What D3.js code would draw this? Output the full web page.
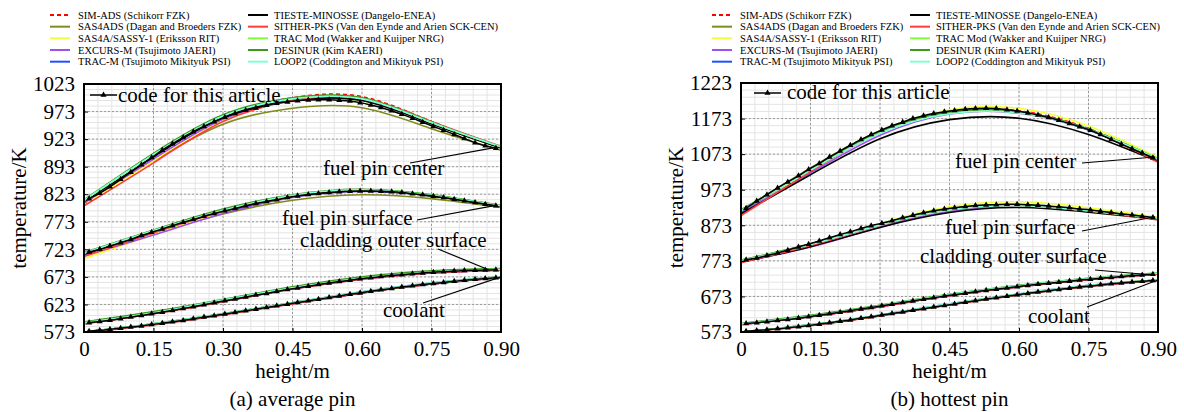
<!DOCTYPE html>
<html>
<head>
<meta charset="utf-8">
<script src="https://cdn.jsdelivr.net/npm/d3@7"></script>
<style>
  body { margin: 0; background: #fff; }
  svg { display: block; font-family: "Liberation Serif", "Times New Roman", serif; }
</style>
</head>
<body>
<svg id="chart" width="1184" height="412"></svg>
<script>
// ---- data ----
const hCode = [0.011,0.034,0.056,0.079,0.101,0.124,0.146,0.169,0.191,0.214,0.236,0.259,0.281,0.304,0.326,0.349,0.371,0.394,0.416,0.439,
               0.461,0.484,0.506,0.529,0.551,0.574,0.596,0.619,0.641,0.664,0.686,0.709,0.731,0.754,0.776,0.799,0.821,0.844,0.866,0.889];
const hBench = [0, 0.15, 0.30, 0.45, 0.60, 0.75, 0.90];

const benchNames = ["SIM-ADS (Schikorr FZK)", "SAS4ADS (Dagan and Broeders FZK)", "SAS4A/SASSY-1 (Eriksson RIT)",
  "EXCURS-M (Tsujimoto JAERI)", "TRAC-M (Tsujimoto Mikityuk PSI)", "TIESTE-MINOSSE (Dangelo-ENEA)",
  "SITHER-PKS (Van den Eynde and Arien SCK-CEN)", "TRAC Mod (Wakker and Kuijper NRG)", "DESINUR (Kim KAERI)",
  "LOOP2 (Coddington and Mikityuk PSI)"];
const benchColors = ["#ff0000", "#7f8c1c", "#f0ff3a", "#a050f0", "#1f4fff", "#000000", "#ff3b3b", "#7fff3a", "#3a9a1a", "#7fffd4"];
const codeName = "code for this article";
const curveLabels = ["fuel pin center", "fuel pin surface", "cladding outer surface", "coolant"];

const xTicks = [0, 0.15, 0.30, 0.45, 0.60, 0.75, 0.90];
const xTickLabels = ["0", "0.15", "0.30", "0.45", "0.60", "0.75", "0.90"];
const avgYTicks = [573, 623, 673, 723, 773, 823, 873, 923, 973, 1023];
const avgYTickLabels = ["573", "623", "673", "723", "773", "823", "893", "923", "973", "1023"];
const hotYTicks = [573, 673, 773, 873, 973, 1073, 1173, 1273];
const hotYTickLabels = ["573", "673", "773", "873", "973", "1073", "1173", "1223"];

// (a) average pin – code for this article
const avgCenterCode = [815,825,836.5,850,863,876.5,889.5,903,914.5,926,936.5,946,954.5,962.5,969.5,975.5,979.5,984.5,988,990.5,
                       992.7,994,994.5,994.5,993.6,992,989.2,985,980.5,974.5,968,961,953.5,946,939,931.5,924,916.5,911,906.5];
const avgSurfaceCode = [718,723,729,735,741,748,754,760,766,772,777,783,788,793,797,802,806,810,813,817,
                        820,822.5,824.5,826,827.5,828.5,829,829,828.5,827.5,826,824,822,819.5,817,814,811,808,805,802];
const avgCladCode = [590,592,594.5,597,600,603,606,609,612,615.5,619,622.5,626,629.5,633,636.5,640,643,646.5,650,
                     653,656,659,662,664.5,667,669.5,671.5,673.5,675.5,677,678.5,680,681.5,682.5,683.5,684.5,685,685.5,686];
const avgCoolCode = [574.5,576,578,580,582,584,586.5,589,591.5,594,597,600,602.5,605.5,608.5,611.5,614.5,617.5,620.5,623.5,
                     626.5,629.5,632.5,635.5,638.5,641.5,644,647,649.5,652,654.5,657,659,661,663,665,667,668.5,670,671.5];

// (a) average pin – benchmark codes, one row per legend entry
const avgCenterBench = [
  [806, 890, 963, 998, 1000, 955, 909],
  [810, 884, 950, 979, 980, 942, 903],
  [803, 884, 958, 992, 992, 951, 907],
  [807, 887, 959, 993, 993, 951, 908],
  [811, 893, 963, 994, 994, 952, 908],
  [810, 891, 962, 993, 993, 951, 907],
  [802, 880, 955, 993, 997, 955, 910],
  [812, 895, 966, 997, 997, 953, 909],
  [813, 897, 967, 998, 998, 954, 909],
  [812, 895, 965, 996, 996, 953, 909]
];
const avgSurfaceBench = [
  [712, 755, 793, 820, 830, 821, 802],
  [714, 752, 787, 812, 822, 815, 799],
  [706, 750, 790, 818, 829, 820, 801],
  [711, 749, 788, 817, 828, 820, 801],
  [715, 756, 793, 819, 829, 820, 801],
  [714, 755, 792, 819, 829, 820, 801],
  [710, 753, 792, 820, 830, 821, 803],
  [716, 757, 795, 821, 831, 822, 802],
  [717, 758, 796, 822, 832, 822, 802],
  [716, 757, 794, 821, 831, 821, 802]
];
const avgCladBench = [
  [588, 606, 628, 651, 669, 680, 685],
  [589, 607, 629, 652, 670, 681, 686],
  [589, 607, 630, 652, 670, 681, 686],
  [589, 607, 629, 651, 669, 680, 685],
  [590, 608, 630, 653, 671, 682, 687],
  [589, 607, 629, 652, 670, 681, 686],
  [588, 606, 628, 651, 669, 680, 685],
  [591, 609, 632, 654, 672, 683, 688],
  [591, 610, 632, 655, 673, 684, 688],
  [590, 608, 631, 653, 671, 682, 687]
];
const avgCoolBench = [
  [573, 587, 605, 625, 644, 660, 672],
  [573, 587, 605, 625, 645, 661, 673],
  [573, 587, 606, 626, 645, 661, 673],
  [573, 587, 605, 625, 644, 660, 672],
  [573, 588, 606, 626, 646, 662, 673],
  [573, 587, 605, 625, 644, 660, 672],
  [572, 586, 604, 624, 644, 660, 672],
  [573, 588, 606, 626, 645, 661, 673],
  [573, 588, 606, 626, 645, 661, 673],
  [573, 588, 606, 626, 646, 662, 673]
];

// (b) hottest pin – code for this article
const hotCenterCode = [921,941,959,978,995,1012,1030,1047,1065,1082,1098,1114,1128,1141,1153,1163,1173,1181,1187,1192,
                       1196,1199,1201,1202,1201,1198,1194,1189,1183,1176,1168,1159,1150,1140,1128,1114,1101,1088,1076,1063];
const hotSurfaceCode = [776,781,788,795,803,812,820,829,838,847,855,864,872,879,886,894,901,908,914,918.5,
                        922.5,926,928.5,930,931,932,932,931,929.5,927.5,925,922,919,916,912.5,909,905,902,898.5,895];
const hotCladCode = [597,599,602,605,608,612,616,620,624,628.5,633,637.5,642,646.5,651,656,660.5,665,669.5,674,
                     678,682,686,690,693.5,697,700.5,704,707,710,713,716,719,721.5,724,726.5,729,731.5,733.5,735.5];
const hotCoolCode = [575,577,579.5,582,585,588,591.5,595,599,603,607,611.5,616,620.5,625,629.5,634,638.5,643,647.5,
                     652,656.5,661,665.5,669.5,673.5,677.5,681.5,685.5,689,692.5,696,699.5,702.5,705.5,708.5,711,713.5,715.5,717.5];

// (b) hottest pin – benchmark codes
const hotCenterBench = [
  [912, 1030, 1137, 1193, 1195, 1145, 1058],
  [915, 1034, 1139, 1193, 1192, 1142, 1057],
  [905, 1028, 1138, 1198, 1202, 1152, 1064],
  [908, 1020, 1126, 1186, 1188, 1141, 1056],
  [912, 1030, 1136, 1190, 1190, 1141, 1058],
  [905, 1015, 1116, 1170, 1174, 1128, 1052],
  [900, 1024, 1133, 1190, 1193, 1143, 1050],
  [916, 1030, 1133, 1188, 1190, 1143, 1060],
  [916, 1032, 1136, 1191, 1192, 1144, 1060],
  [914, 1028, 1132, 1187, 1189, 1142, 1059]
];
const hotSurfaceBench = [
  [773, 820, 876, 918, 930, 915, 892],
  [774, 820, 877, 919, 930, 915, 892],
  [770, 818, 878, 925, 939, 922, 896],
  [770, 812, 868, 912, 926, 913, 891],
  [773, 819, 875, 917, 929, 914, 892],
  [770, 813, 867, 909, 923, 910, 890],
  [768, 816, 873, 916, 928, 913, 888],
  [775, 820, 875, 917, 929, 914, 893],
  [775, 821, 876, 918, 930, 915, 893],
  [774, 819, 874, 916, 928, 914, 893]
];
const hotCladBench = [
  [594, 616, 644, 675, 700, 720, 736],
  [595, 617, 645, 676, 701, 721, 737],
  [595, 617, 645, 676, 701, 721, 737],
  [594, 616, 644, 675, 700, 720, 736],
  [596, 618, 646, 677, 702, 722, 737],
  [595, 617, 645, 676, 701, 721, 736],
  [594, 616, 644, 675, 700, 720, 736],
  [597, 619, 648, 679, 704, 724, 739],
  [597, 620, 648, 679, 704, 724, 739],
  [596, 618, 647, 678, 703, 723, 738]
];
const hotCoolBench = [
  [573, 592, 619, 650, 678, 702, 718],
  [573, 592, 620, 651, 679, 703, 719],
  [573, 592, 620, 651, 679, 703, 719],
  [573, 592, 619, 650, 678, 702, 718],
  [573, 593, 621, 652, 680, 704, 719],
  [573, 592, 619, 650, 678, 702, 718],
  [572, 591, 618, 649, 677, 701, 717],
  [573, 593, 620, 651, 679, 703, 719],
  [573, 593, 620, 651, 679, 703, 719],
  [573, 593, 621, 652, 680, 704, 719]
];

// ---- layout ----
const panels = [
  {
    id: "a", left: 84, right: 501, top: 84, bottom: 332, yMin: 573, yMax: 1023, minorStep: 10,
    yTicks: avgYTicks, yLabels: avgYTickLabels, caption: "(a) average pin", titleX: 26,
    curves: [
      { code: avgCenterCode, bench: avgCenterBench },
      { code: avgSurfaceCode, bench: avgSurfaceBench },
      { code: avgCladCode, bench: avgCladBench },
      { code: avgCoolCode, bench: avgCoolBench }
    ],
    // label text position (px from plot top-left), leader start (px), leader end (data)
    notes: [
      { tx: 239, ty: 91, lx: 326, ly: 79, h: 0.883, t: 907 },
      { tx: 198, ty: 141, lx: 333, ly: 136, h: 0.883, t: 802 },
      { tx: 216, ty: 163, lx: 354, ly: 165, h: 0.873, t: 686 },
      { tx: 299, ty: 233, lx: 339, ly: 219, h: 0.900, t: 673 }
    ],
    codeLegend: { x1: 6, x2: 33, y: 11, tx: 34, ty: 18 },
    legend: { col1: 50, col2: 248 }
  },
  {
    id: "b", left: 741, right: 1158, top: 83, bottom: 332, yMin: 573, yMax: 1273, minorStep: 20,
    yTicks: hotYTicks, yLabels: hotYTickLabels, caption: "(b) hottest pin", titleX: 683,
    curves: [
      { code: hotCenterCode, bench: hotCenterBench },
      { code: hotSurfaceCode, bench: hotSurfaceBench },
      { code: hotCladCode, bench: hotCladBench },
      { code: hotCoolCode, bench: hotCoolBench }
    ],
    notes: [
      { tx: 214, ty: 85, lx: 341, ly: 80, h: 0.894, t: 1065 },
      { tx: 204, ty: 151, lx: 341, ly: 148, h: 0.894, t: 897 },
      { tx: 179, ty: 180, lx: 354, ly: 187, h: 0.883, t: 734 },
      { tx: 287, ty: 240, lx: 346, ly: 224, h: 0.901, t: 720 }
    ],
    codeLegend: { x1: 13, x2: 40, y: 10, tx: 46, ty: 16 },
    legend: { col1: 712, col2: 910 }
  }
];

const svg = d3.select("#chart");
const FS = 21;
const SERIF = "'Liberation Serif', 'Times New Roman', serif";

function drawPanel(p) {
  const x = d3.scaleLinear().domain([0, 0.9]).range([p.left, p.right]);
  const y = d3.scaleLinear().domain([p.yMin, p.yMax]).range([p.bottom, p.top]);
  const g = svg.append("g").attr("font-family", SERIF);

  g.append("clipPath").attr("id", "clip-" + p.id)
    .append("rect").attr("x", p.left).attr("y", p.top)
    .attr("width", p.right - p.left).attr("height", p.bottom - p.top);

  // minor grid
  const xMinor = d3.range(1, 30).map(i => i * 0.03);
  const yMinor = d3.range(1, (p.yMax - p.yMin) / p.minorStep).map(i => p.yMin + i * p.minorStep);
  g.append("g").selectAll("line").data(xMinor).join("line")
    .attr("x1", d => x(d)).attr("x2", d => x(d)).attr("y1", p.top).attr("y2", p.bottom)
    .attr("stroke", "#e4e4e4").attr("stroke-width", 1);
  g.append("g").selectAll("line").data(yMinor).join("line")
    .attr("x1", p.left).attr("x2", p.right).attr("y1", d => y(d)).attr("y2", d => y(d))
    .attr("stroke", "#e4e4e4").attr("stroke-width", 1);

  // major grid (dotted)
  g.append("g").selectAll("line").data(xTicks.slice(1, -1)).join("line")
    .attr("x1", d => x(d)).attr("x2", d => x(d)).attr("y1", p.top).attr("y2", p.bottom)
    .attr("stroke", "#9a9a9a").attr("stroke-width", 1).attr("stroke-dasharray", "2,2");
  g.append("g").selectAll("line").data(p.yTicks.slice(1, -1)).join("line")
    .attr("x1", p.left).attr("x2", p.right).attr("y1", d => y(d)).attr("y2", d => y(d))
    .attr("stroke", "#9a9a9a").attr("stroke-width", 1).attr("stroke-dasharray", "2,2");

  const plot = g.append("g").attr("clip-path", `url(#clip-${p.id})`);
  const benchLine = d3.line().x((d, j) => x(hBench[j])).y(d => y(d)).curve(d3.curveNatural);
  const codeLine = d3.line().x((d, j) => x(hCode[j])).y(d => y(d)).curve(d3.curveCatmullRom);

  p.curves.forEach(c => {
    c.bench.forEach((vals, i) => {
      plot.append("path").datum(vals)
        .attr("d", benchLine)
        .attr("fill", "none")
        .attr("stroke", benchColors[i])
        .attr("stroke-width", 1.6)
        .attr("stroke-dasharray", i === 0 ? "4,3" : null);
    });
  });
  p.curves.forEach(c => {
    plot.append("path").datum(c.code)
      .attr("d", codeLine)
      .attr("fill", "none").attr("stroke", "#000").attr("stroke-width", 1.5);
    plot.append("g").selectAll("path").data(c.code).join("path")
      .attr("transform", (d, j) => `translate(${x(hCode[j])},${y(d)})`)
      .attr("d", d3.symbol(d3.symbolTriangle, 16))
      .attr("fill", "#000");
  });

  // frame
  g.append("rect").attr("x", p.left).attr("y", p.top)
    .attr("width", p.right - p.left).attr("height", p.bottom - p.top)
    .attr("fill", "none").attr("stroke", "#000").attr("stroke-width", 2);

  // axes
  const xAxis = g.append("g").attr("transform", `translate(0,${p.bottom})`)
    .call(d3.axisBottom(x).tickValues(xTicks).tickFormat((d, i) => xTickLabels[i])
      .tickSizeInner(-4).tickSizeOuter(0).tickPadding(9));
  const yAxis = g.append("g").attr("transform", `translate(${p.left},0)`)
    .call(d3.axisLeft(y).tickValues(p.yTicks).tickFormat((d, i) => p.yLabels[i])
      .tickSizeInner(-4).tickSizeOuter(0).tickPadding(9));
  [xAxis, yAxis].forEach(a => {
    a.attr("font-family", SERIF).attr("font-size", FS);
    a.select(".domain").remove();
    a.selectAll("text").attr("fill", "#000");
    a.selectAll("line").attr("stroke", "#000");
  });

  // axis titles and caption
  const cx = (p.left + p.right) / 2;
  g.append("text").attr("x", cx).attr("y", 378).attr("text-anchor", "middle")
    .attr("font-size", FS).text("height/m");
  g.append("text").attr("x", cx).attr("y", 406).attr("text-anchor", "middle")
    .attr("font-size", FS).text(p.caption);
  g.append("text").attr("transform", `translate(${p.titleX},${(p.top + p.bottom) / 2}) rotate(-90)`)
    .attr("text-anchor", "middle").attr("font-size", FS).text("temperature/K");

  // curve labels with leader lines
  p.notes.forEach((n, i) => {
    g.append("text").attr("x", p.left + n.tx).attr("y", p.top + n.ty)
      .attr("font-size", FS).text(curveLabels[i]);
    g.append("line")
      .attr("x1", p.left + n.lx).attr("y1", p.top + n.ly)
      .attr("x2", x(n.h)).attr("y2", y(n.t))
      .attr("stroke", "#000").attr("stroke-width", 1.2);
  });

  // in-plot legend for code
  const cl = p.codeLegend;
  g.append("line").attr("x1", p.left + cl.x1).attr("x2", p.left + cl.x2)
    .attr("y1", p.top + cl.y).attr("y2", p.top + cl.y)
    .attr("stroke", "#000").attr("stroke-width", 1.5);
  g.append("path").attr("transform", `translate(${p.left + (cl.x1 + cl.x2) / 2},${p.top + cl.y})`)
    .attr("d", d3.symbol(d3.symbolTriangle, 16)).attr("fill", "#000");
  g.append("text").attr("x", p.left + cl.tx).attr("y", p.top + cl.ty)
    .attr("font-size", FS).text(codeName);

  // benchmark legend above the plot
  const lg = g.append("g");
  benchNames.forEach((name, i) => {
    const col = i < 5 ? p.legend.col1 : p.legend.col2;
    const ly = 15 + (i % 5) * 11.67;
    lg.append("line").attr("x1", col).attr("x2", col + 20).attr("y1", ly).attr("y2", ly)
      .attr("stroke", benchColors[i]).attr("stroke-width", 2)
      .attr("stroke-dasharray", i === 0 ? "4,3" : null);
    lg.append("text").attr("x", col + (i < 5 ? 28 : 26)).attr("y", ly + 3.6)
      .attr("font-size", 10.5).text(name);
  });
}

panels.forEach(drawPanel);
</script>
</body>
</html>
